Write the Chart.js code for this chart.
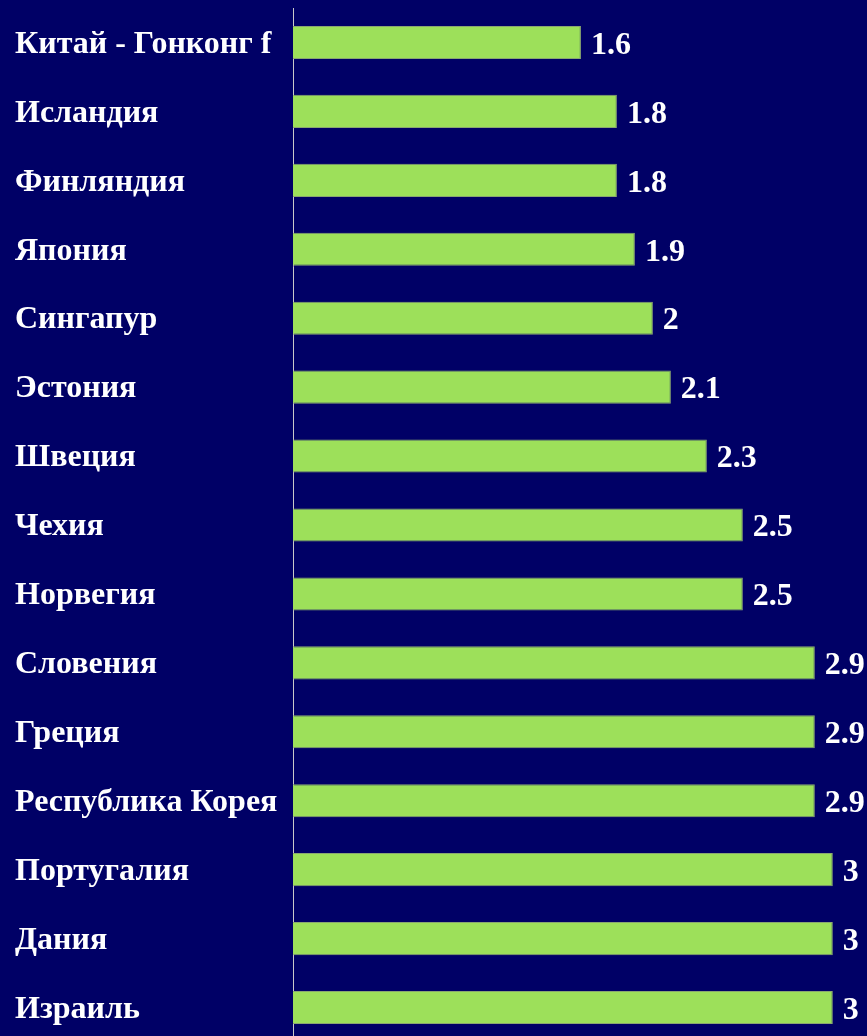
<!DOCTYPE html>
<html>
<head>
<meta charset="utf-8">
<script src="https://cdn.jsdelivr.net/npm/chart.js@4"></script>
<style>
  html, body { margin: 0; padding: 0; background: #000066; overflow: hidden; }
  #wrap { position: relative; width: 867px; height: 1042px; }
</style>
</head>
<body>
<div id="wrap"><canvas id="chart"></canvas></div>
<script>
const countries = [
    "Китай - Гонконг f", "Исландия", "Финляндия", "Япония", "Сингапур",
    "Эстония", "Швеция", "Чехия", "Норвегия", "Словения",
    "Греция", "Республика Корея", "Португалия", "Дания", "Израиль"
];
const values = [1.6, 1.8, 1.8, 1.9, 2, 2.1, 2.3, 2.5, 2.5, 2.9, 2.9, 2.9, 3, 3, 3];

const fontFamily = "'Liberation Serif', 'Times New Roman', serif";
const fontSize = 32;

// value labels at the end of each bar
const valueLabels = {
    id: "valueLabels",
    afterDatasetsDraw(chart) {
        const ctx = chart.ctx;
        const meta = chart.getDatasetMeta(0);
        ctx.save();
        ctx.font = "bold " + fontSize + "px " + fontFamily;
        ctx.fillStyle = "#ffffff";
        ctx.textAlign = "left";
        ctx.textBaseline = "middle";
        meta.data.forEach((bar, i) => {
            ctx.fillText(String(values[i]), bar.x + 10, bar.y + 3);
        });
        ctx.restore();
    }
};

new Chart(document.getElementById("chart"), {
    type: "bar",
    data: {
        labels: countries,
        datasets: [{
            data: values,
            backgroundColor: "#9de05a",
            borderColor: "#8aa870",
            borderWidth: 1,
            barPercentage: 0.48,
            categoryPercentage: 1
        }]
    },
    options: {
        indexAxis: "y",
        responsive: true,
        maintainAspectRatio: false,
        animation: false,
        layout: { padding: { left: 15, top: 8, right: 0, bottom: 0 } },
        plugins: {
            legend: { display: false },
            tooltip: { enabled: false }
        },
        scales: {
            x: {
                display: false,
                min: 0,
                max: 3.19
            },
            y: {
                grid: { display: false },
                border: { display: true, color: "#c8c8c8", width: 1 },
                afterFit(scale) {
                    scale.width = 278;
                    scale.paddingTop = 0;
                    scale.paddingBottom = 0;
                },
                ticks: {
                    color: "#ffffff",
                    font: { family: fontFamily, size: fontSize, weight: "bold" },
                    crossAlign: "far",
                    padding: 0,
                    labelOffset: 2
                }
            }
        }
    },
    plugins: [valueLabels]
});
</script>
</body>
</html>
